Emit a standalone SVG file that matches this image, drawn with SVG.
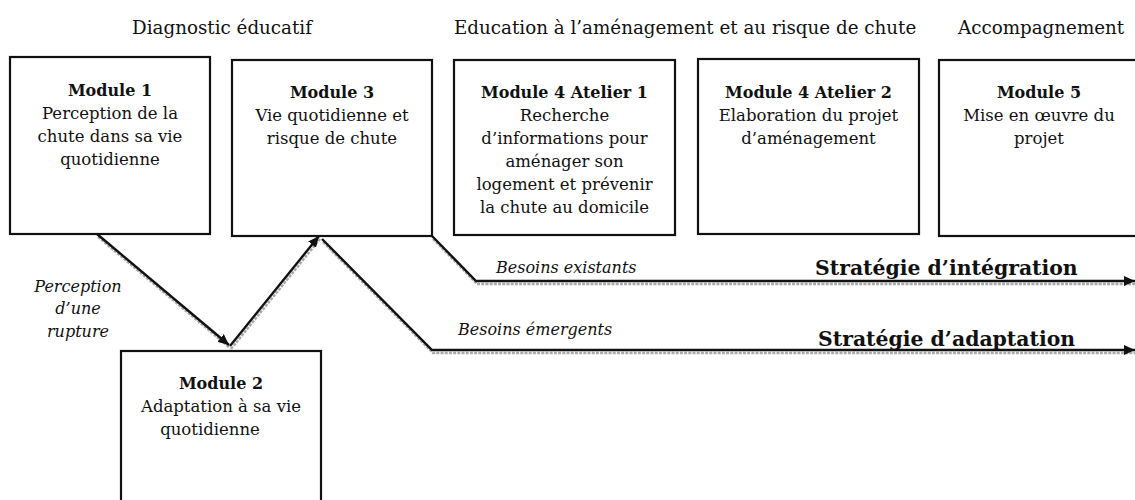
<svg xmlns="http://www.w3.org/2000/svg" width="1135" height="500" viewBox="0 0 1135 500">
<defs>
<style>
text{font-family:"DejaVu Serif","Liberation Serif",serif;fill:#111;}
.hd{font-size:18.3px;}
.t{font-size:16.5px;text-anchor:middle;}
.b{font-size:16px;font-weight:bold;text-anchor:middle;}
.it{font-size:16px;font-style:italic;}
.st{font-size:20.4px;font-weight:bold;}
.box{fill:#fff;stroke:#111;stroke-width:2.2;}
.ln{fill:none;stroke:#111;stroke-width:2.4;}
.sh{fill:none;stroke:#a9a9a9;stroke-width:2.4;stroke-dasharray:3 1.2;}
</style>
<marker id="ah" markerUnits="userSpaceOnUse" markerWidth="12" markerHeight="10" refX="11" refY="5" orient="auto">
<path d="M0,0 L11,5 L0,10 Z" fill="#111"/>
</marker>
</defs>
<rect width="1135" height="500" fill="#fff"/>

<g id="headers">
<text class="hd" x="222" y="34" text-anchor="middle">Diagnostic éducatif</text>
<text class="hd" x="454" y="34">Education à l’aménagement et au risque de chute</text>
<text class="hd" x="958" y="34">Accompagnement</text>
</g>

<g id="connectors">
<g class="shadows" transform="translate(1,3)">
<path class="sh" d="M97,234 L229,345"/>
<path class="sh" d="M230,346 L319,236"/>
<path class="sh" d="M322,239 L432,350 L1135,350"/>
<path class="sh" d="M432,236 L476,281 L1135,281"/>
</g>
<path class="ln" d="M97,234 L229,345" marker-end="url(#ah)"/>
<path class="ln" d="M230,346 L319,236" marker-end="url(#ah)"/>
<path class="ln" d="M322,239 L432,350 L1135,350" marker-end="url(#ah)"/>
<path class="ln" d="M432,236 L476,281 L1135,281" marker-end="url(#ah)"/>
<text class="it" x="78" y="292" text-anchor="middle">Perception</text>
<text class="it" x="78" y="314" text-anchor="middle">d’une</text>
<text class="it" x="78" y="337" text-anchor="middle">rupture</text>
<text class="it" x="496" y="273">Besoins existants</text>
<text class="it" x="458" y="335">Besoins émergents</text>
<text class="st" x="815" y="275">Stratégie d’intégration</text>
<text class="st" x="818" y="346">Stratégie d’adaptation</text>
</g>

<g id="module1">
<rect class="box" x="10" y="57" width="200" height="177"/>
<text class="b" x="110" y="96">Module 1</text>
<text class="t" x="110" y="119">Perception de la</text>
<text class="t" x="110" y="142">chute dans sa vie</text>
<text class="t" x="110" y="165">quotidienne</text>
</g>

<g id="module3">
<rect class="box" x="232" y="60" width="200" height="176"/>
<text class="b" x="332" y="98">Module 3</text>
<text class="t" x="332" y="121">Vie quotidienne et</text>
<text class="t" x="332" y="144">risque de chute</text>
</g>

<g id="module4a1">
<rect class="box" x="454" y="60" width="221" height="175"/>
<text class="b" x="564.5" y="98">Module 4 Atelier 1</text>
<text class="t" x="564.5" y="121">Recherche</text>
<text class="t" x="564.5" y="144">d’informations pour</text>
<text class="t" x="564.5" y="167">aménager son</text>
<text class="t" x="564.5" y="190">logement et prévenir</text>
<text class="t" x="564.5" y="213">la chute au domicile</text>
</g>

<g id="module4a2">
<rect class="box" x="698" y="59" width="221" height="175"/>
<text class="b" x="808.5" y="98">Module 4 Atelier 2</text>
<text class="t" x="808.5" y="121">Elaboration du projet</text>
<text class="t" x="808.5" y="144">d’aménagement</text>
</g>

<g id="module5">
<rect class="box" x="939" y="60" width="220" height="176"/>
<text class="b" x="1039" y="98">Module 5</text>
<text class="t" x="1039" y="121">Mise en œuvre du</text>
<text class="t" x="1039" y="144">projet</text>
</g>

<g id="module2">
<rect class="box" x="121" y="351" width="200" height="170"/>
<text class="b" x="221" y="389">Module 2</text>
<text class="t" x="221" y="412">Adaptation à sa vie</text>
<text class="t" x="210" y="435">quotidienne</text>
</g>
</svg>
